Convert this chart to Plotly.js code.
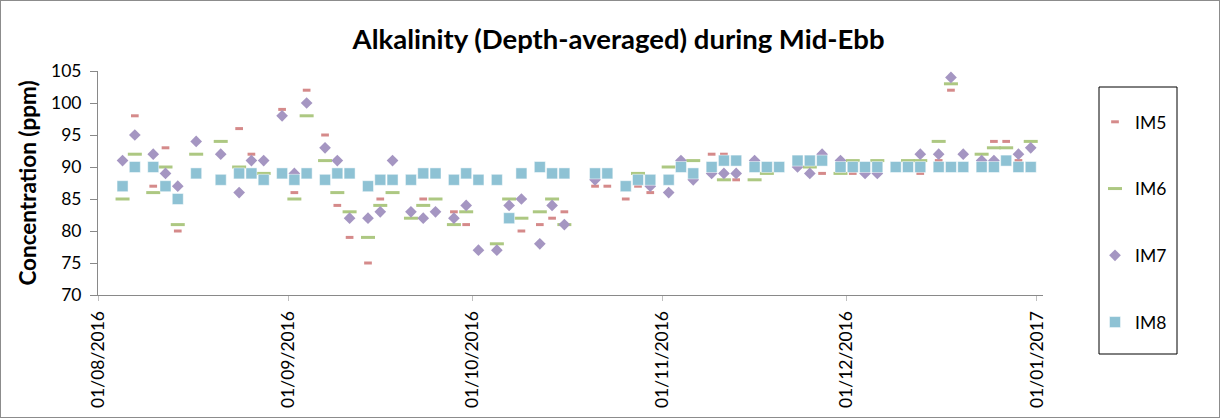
<!DOCTYPE html>
<html>
<head>
<meta charset="utf-8">
<script src="https://cdn.plot.ly/plotly-3.0.1.min.js"></script>
<style>
  html, body { margin: 0; padding: 0; background: #fff; }
  #wrap { position: relative; width: 1220px; height: 418px; }
  #chart { width: 1220px; height: 418px; }
  #frame { position: absolute; left: 0; top: 0; width: 1220px; height: 418px; box-sizing: border-box; border: 1px solid #8c8c8c; pointer-events: none; }
</style>
</head>
<body>
<div id="wrap"><div id="chart"></div><div id="frame"></div></div>
<script>
const dates = [
  '2016-08-05','2016-08-07','2016-08-10','2016-08-12','2016-08-14','2016-08-17','2016-08-21','2016-08-24','2016-08-26','2016-08-28',
  '2016-08-31','2016-09-02','2016-09-04','2016-09-07','2016-09-09','2016-09-11','2016-09-14','2016-09-16','2016-09-18','2016-09-21',
  '2016-09-23','2016-09-25','2016-09-28','2016-09-30','2016-10-02','2016-10-05','2016-10-07','2016-10-09','2016-10-12','2016-10-14',
  '2016-10-16','2016-10-21','2016-10-23','2016-10-26','2016-10-28','2016-10-30','2016-11-02','2016-11-04','2016-11-06','2016-11-09',
  '2016-11-11','2016-11-13','2016-11-16','2016-11-18','2016-11-20','2016-11-23','2016-11-25','2016-11-27','2016-11-30','2016-12-02',
  '2016-12-04','2016-12-06','2016-12-09','2016-12-11','2016-12-13','2016-12-16','2016-12-18','2016-12-20','2016-12-23','2016-12-25',
  '2016-12-27','2016-12-29','2016-12-31'
];
const im5 = [
  null,98,87,93,80,null,null,96,92,null,
  99,86,102,95,84,79,75,85,null,null,
  85,null,83,81,null,null,null,80,81,82,
  83,87,87,85,87,86,null,null,null,92,
  92,88,null,null,null,null,null,89,null,89,
  null,null,null,null,89,91,102,null,null,94,
  94,91,null
];
const im6 = [
  85,92,86,90,81,92,94,90,null,89,
  null,85,98,91,86,83,79,84,86,82,
  84,85,81,83,null,78,85,82,83,85,
  81,null,null,null,89,null,90,null,91,null,
  88,null,88,89,null,null,90,null,89,91,
  null,91,null,91,91,94,103,null,92,93,
  93,null,94
];
const im7 = [
  91,95,92,89,87,94,92,86,91,91,
  98,89,100,93,91,82,82,83,91,83,
  82,83,82,84,77,77,84,85,78,84,
  81,88,null,null,null,87,86,91,88,89,
  89,89,91,null,null,90,89,92,91,null,
  89,89,null,null,92,92,104,92,91,91,
  null,92,93
];
const im8 = [
  87,90,90,87,85,89,88,89,89,88,
  89,88,89,88,89,89,87,88,88,88,
  89,89,88,89,88,88,82,89,90,89,
  89,89,89,87,88,88,88,90,89,90,
  91,91,90,90,90,91,91,91,90,90,
  90,90,90,90,90,90,90,90,90,90,
  91,90,90
];
const seriesNames = ['IM5','IM6','IM7','IM8'];
const xTickVals = ['2016-08-01','2016-09-01','2016-10-01','2016-11-01','2016-12-01','2017-01-01'];
const xTickText = ['01/08/2016','01/09/2016','01/10/2016','01/11/2016','01/12/2016','01/01/2017'];

const FONT = 'Lato, "Open Sans", sans-serif';

const traces = [
  {x: dates, y: im5, name: seriesNames[0], legendgroup: 'g5', mode: 'markers', type: 'scatter',
   marker: {symbol: 'line-ew', size: 5.5, color: '#d58a8a', line: {color: '#d58a8a', width: 3}}},
  {x: dates, y: im6, name: seriesNames[1], legendgroup: 'g6', mode: 'markers', type: 'scatter',
   marker: {symbol: 'line-ew', size: 10, color: '#adc882', line: {color: '#adc882', width: 3}}},
  {x: dates, y: im7, name: seriesNames[2], legendgroup: 'g7', mode: 'markers', type: 'scatter',
   marker: {symbol: 'diamond', size: 9, color: '#a596c2', line: {width: 0}}},
  {x: dates, y: im8, name: seriesNames[3], legendgroup: 'g8', mode: 'markers', type: 'scatter',
   marker: {symbol: 'square', size: 11, color: '#8ec2d4', line: {color: 'rgba(255,255,255,0.6)', width: 0.8}}}
];

const layout = {
  width: 1220, height: 418,
  margin: {l: 98, r: 177, t: 71, b: 123, pad: 0},
  paper_bgcolor: '#ffffff', plot_bgcolor: '#ffffff',
  font: {family: FONT, color: '#000000', size: 17.5},
  title: {text: '<b>Alkalinity (Depth-averaged) during Mid-Ebb</b>', font: {family: FONT, size: 27.5, color: '#000'},
          x: 0.507, xref: 'container', xanchor: 'center', y: 0.905, yref: 'container', yanchor: 'middle'},
  xaxis: {
    type: 'date', range: ['2016-08-01', '2017-01-02'],
    tickmode: 'array', tickvals: xTickVals, ticktext: xTickText, tickangle: -90,
    ticks: 'outside', ticklen: 5, tickcolor: '#bfbfbf', tickwidth: 1, ticklabelstandoff: 3,
    showline: true, linecolor: '#898989', linewidth: 1,
    showgrid: false, zeroline: false,
    tickfont: {family: FONT, size: 17.5, color: '#000'}
  },
  yaxis: {
    range: [70, 105], dtick: 5, tick0: 70,
    ticks: 'outside', ticklen: 7, tickcolor: '#898989', tickwidth: 1, ticklabelstandoff: 5,
    showline: true, linecolor: '#898989', linewidth: 1,
    showgrid: false, zeroline: false,
    tickfont: {family: FONT, size: 17.5, color: '#000'},
    title: {text: '<b>Concentration (ppm)</b>', font: {family: FONT, size: 22.5, color: '#000'}, standoff: 8}
  },
  showlegend: true,
  legend: {
    x: (1095-98)/945, xanchor: 'left', xref: 'paper', y: 0.853, yanchor: 'top',
    bgcolor: 'rgba(0,0,0,0)', borderwidth: 0, maxheight: 400,
    font: {family: FONT, size: 17.5, color: '#000'},
    traceorder: 'grouped', tracegroupgap: 41, itemwidth: 30
  },
  shapes: [
    {type: 'rect', xref: 'paper', yref: 'paper',
     x0: (1099-98)/945, x1: (1177-98)/945, y0: (295-354)/224, y1: (295-87)/224,
     line: {color: '#000', width: 1}, fillcolor: 'rgba(0,0,0,0)'}
  ]
};

Plotly.newPlot('chart', traces, layout, {displayModeBar: false, staticPlot: true});
</script>
</body>
</html>
